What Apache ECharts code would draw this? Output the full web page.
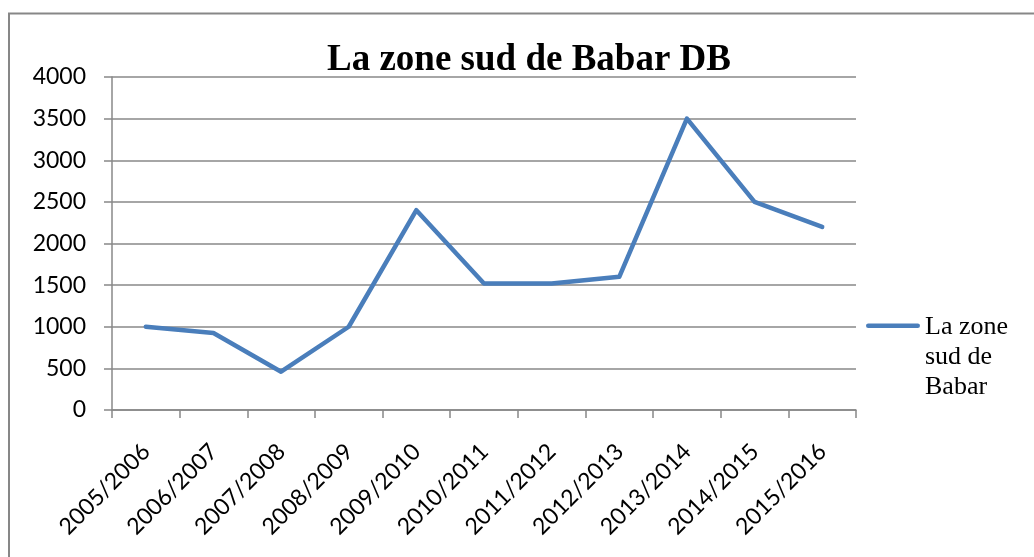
<!DOCTYPE html>
<html>
<head>
<meta charset="utf-8">
<script src="https://cdn.jsdelivr.net/npm/echarts@6/dist/echarts.min.js"></script>
<style>
html,body{margin:0;padding:0;background:#fff;}
#chart{width:1034px;height:557px;}
</style>
</head>
<body>
<div id="chart"></div>
<script>
const categories = ['2005/2006','2006/2007','2007/2008','2008/2009','2009/2010','2010/2011','2011/2012','2012/2013','2013/2014','2014/2015','2015/2016'];
const values = [1000, 925, 460, 1000, 2400, 1520, 1520, 1600, 3500, 2500, 2200];
const seriesName = 'La zone sud de Babar';
const legendLabel = 'La zone\nsud de\nBabar';
const titleText = 'La zone sud de Babar DB';

const chart = echarts.init(document.getElementById('chart'), null, {renderer:'canvas'});
const gray = '#888888';
chart.setOption({
  animation: false,
  backgroundColor: '#ffffff',
  title: {
    text: titleText,
    left: 322,
    top: 37,
    textStyle: {fontFamily: '"Liberation Serif", "DejaVu Serif", serif', fontWeight: 'bold', fontSize: 37, color: '#000'}
  },
  graphic: [{
    type: 'rect', silent: true, z: -1,
    shape: {x: 9, y: 13.5, width: 1100, height: 600},
    style: {fill: 'none', stroke: '#878787', lineWidth: 2}
  }],
  legend: {
    left: 861, top: 307,
    orient: 'vertical',
    itemWidth: 54, itemHeight: 90,
    icon: 'path://M2.25,11.45h49.5a2.25,2.25 0 0 1 0,4.5h-49.5a2.25,2.25 0 0 1 0,-4.5z M0,0h0.01v0.01h-0.01z M0,90h0.01v0.01h-0.01z',
    formatter: function(){ return legendLabel; },
    textStyle: {fontFamily: '"Liberation Serif", "DejaVu Serif", serif', fontSize: 26, lineHeight: 30, color: '#000'},
    itemStyle: {borderWidth: 0},
    data: [seriesName]
  },
  grid: {left: 112, right: 178, top: 77, bottom: 147, containLabel: false},
  xAxis: {
    type: 'category',
    data: categories,
    boundaryGap: true,
    axisLine: {lineStyle: {color: gray, width: 1.5}},
    axisTick: {show: true, length: 8, lineStyle: {color: gray, width: 1.5}},
    axisLabel: {rotate: 45, interval: 0, margin: 22, verticalAlign: 'top', align: 'right', padding: [0, 11, 0, 0],
      fontFamily: 'Lato, "Open Sans", sans-serif', fontSize: 23, color: '#000'},
    splitLine: {show: false}
  },
  yAxis: {
    type: 'value',
    min: 0, max: 4000, interval: 500,
    axisLine: {show: true, lineStyle: {color: gray, width: 1.5}},
    axisTick: {show: true, length: 8, lineStyle: {color: gray, width: 1.5}},
    axisLabel: {margin: 26, formatter: function(v){ return String(v); },
      fontFamily: 'Lato, "Open Sans", sans-serif', fontSize: 23, color: '#000'},
    splitLine: {show: true, lineStyle: {color: gray, width: 1.5}}
  },
  series: [{
    name: seriesName,
    type: 'line',
    data: values,
    symbol: 'none',
    color: '#4A7EBB',
    lineStyle: {color: '#4A7EBB', width: 4.5, join: 'round', cap: 'round'}
  }]
});
</script>
</body>
</html>
